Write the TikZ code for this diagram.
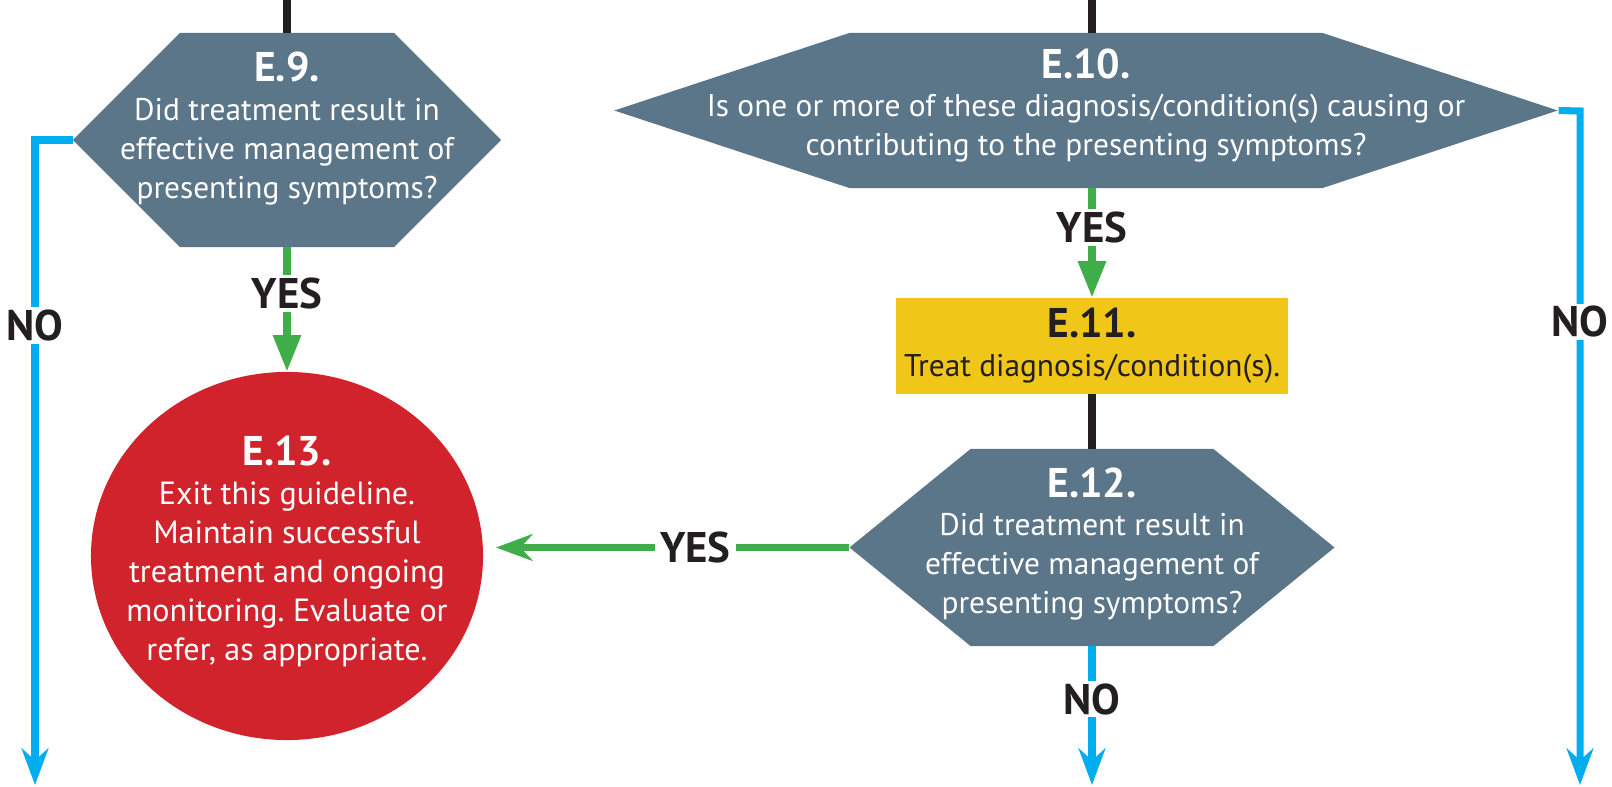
\documentclass[tikz,border=0pt]{standalone}
\usepackage{fontspec}
\setmainfont{PT Sans}
\usetikzlibrary{arrows.meta,shapes.symbols,shapes.geometric}
\frenchspacing

\definecolor{slate}{HTML}{5B7589}
\definecolor{exitred}{HTML}{D1232B}
\definecolor{treatyellow}{HTML}{F0C719}
\definecolor{yesgreen}{HTML}{3FAE49}
\definecolor{noblue}{HTML}{00AEEF}
\definecolor{ink}{HTML}{231F20}

% one centred line of zero width, so the text does not size the shape
\newcommand{\ctrline}[1]{\makebox[0pt]{#1}}
\newcommand{\stepname}[1]{\makebox[0pt]{\fontsize{29.5pt}{27.6pt}\selectfont\bfseries #1}}

\begin{document}
\begin{tikzpicture}[
  x=0.025cm, y=-0.025cm,
  question/.style={signal, signal to=east and west, fill=slate, text=white,
    inner ysep=0pt, align=center, font=\fontsize{22.3pt}{27.6pt}\selectfont},
  action/.style={rectangle, fill=treatyellow, text=ink, inner sep=0pt,
    align=center, font=\fontsize{22.3pt}{27.6pt}\selectfont},
  exitstep/.style={ellipse, fill=exitred, text=white, inner sep=0pt,
    align=center, font=\fontsize{22.8pt}{27.8pt}\selectfont},
  link/.style={line width=5.7pt, ink},
  yes/.style={line width=5pt, yesgreen},
  no/.style={line width=5pt, noblue},
  tri/.style={-{Triangle[length=26pt,width=19pt]}},
  barb/.style={-{Stealth[length=26pt,width=19pt,inset=8.5pt]}},
  answer/.style={fill=white, text=ink, inner xsep=3.5pt, inner ysep=2pt,
    font=\fontsize{30.5pt}{31pt}\selectfont\bfseries},
]
  \useasboundingbox (0,0) rectangle (1612,787);

  % Decisions and steps
  \node[question, inner xsep=76.1pt, minimum height=152.2pt,
    signal pointer angle=90, text depth=21pt] (E9) at (287,140)
    {\stepname{E.9.}\\ \ctrline{Did treatment result in}\\
     \ctrline{effective management of}\\ \ctrline{presenting symptoms?}};
  \node[question, inner xsep=168.2pt, minimum height=110.3pt,
    signal pointer angle=36.5, text depth=12pt] (E10) at (1086,110.5)
    {\stepname{E.10.}\\
     \ctrline{Is one or more of these diagnosis/condition(s) causing or}\\
     \ctrline{contributing to the presenting symptoms?}};
  \node[action, minimum width=278.8pt, minimum height=68.3pt] (E11) at (1092,346)
    {\stepname{E.11.}\\ Treat diagnosis/condition(s).};
  \node[question, inner xsep=86.4pt, minimum height=140.1pt,
    signal pointer angle=78.3, text depth=10pt] (E12) at (1092,547.5)
    {\stepname{E.12.}\\ \ctrline{Did treatment result in}\\
     \ctrline{effective management of}\\ \ctrline{presenting symptoms?}};
  \node[exitstep, minimum width=278.8pt, minimum height=261.8pt,
    text depth=11pt] (E13) at (287,556)
    {\stepname{E.13.}\\ \ctrline{Exit this guideline.}\\
     \ctrline{Maintain successful}\\ \ctrline{treatment and ongoing}\\
     \ctrline{monitoring. Evaluate or}\\ \ctrline{refer, as appropriate.}};

  % Coordonnees des entrees et sorties
  \coordinate (in9)    at (287,0);
  \coordinate (in10)   at (1092,0);
  \coordinate (bend9)  at (35,140);
  \coordinate (out9)   at (35,785);
  \coordinate (bend10) at (1580,111);
  \coordinate (out10)  at (1580,785);
  \coordinate (out12)  at (1092,785);

  % Liens
  \draw[link] (in9) -- (E9.north);
  \draw[link] (in10) -- (in10 |- E10.north);
  \draw[link] (E11.south) -- (E12.north);

  % YES
  \draw[yes,tri] (E9.south) -- (E13.north) node[answer,pos=0.37] {YES};
  \draw[yes,tri] (E11.north |- E10.south) -- (E11.north)
    node[answer,pos=0.36] {YES};
  \draw[yes,barb,shorten >=9pt] (E12.west) -- (E12.west -| E13.east)
    node[answer,pos=0.42] {YES};

  % NO
  \draw[no,barb] (E9.west) -- (bend9) -- (out9) node[answer,pos=0.287] {NO};
  \draw[no,barb] (E10.east) -- (bend10) -- (out10) node[answer,pos=0.313] {NO};
  \draw[no,barb] (E12.south) -- (out12) node[answer,pos=0.38] {NO};
\end{tikzpicture}
\end{document}
